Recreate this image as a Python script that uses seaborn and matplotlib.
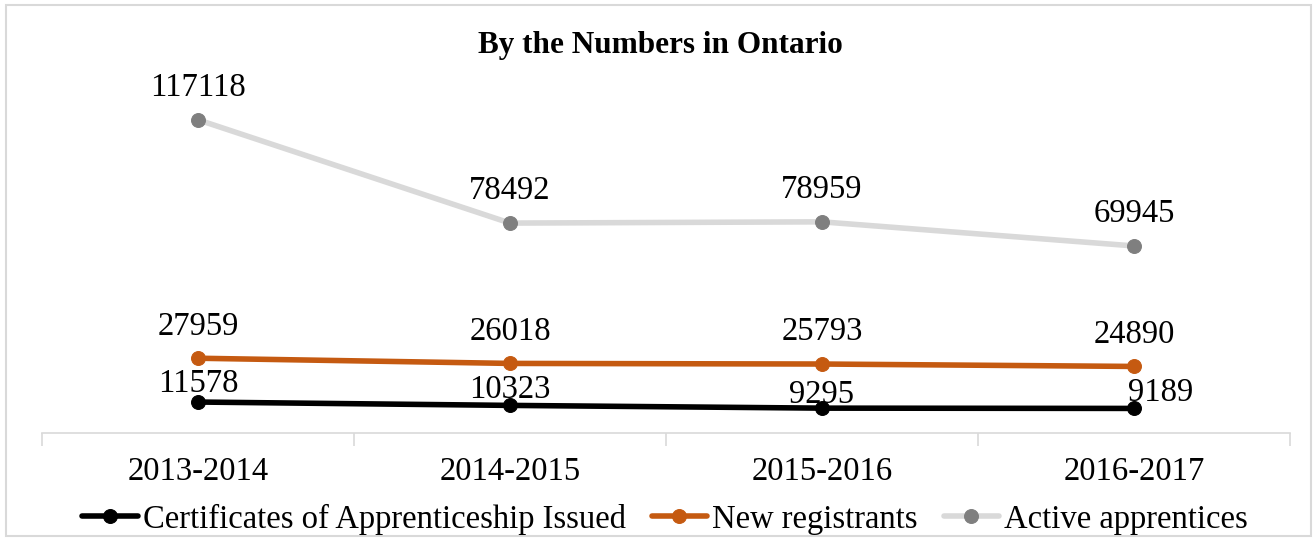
import matplotlib
matplotlib.use("Agg")
import matplotlib.pyplot as plt
import seaborn as sns
import pandas as pd
from matplotlib.patches import Rectangle

years = ["2013-2014", "2014-2015", "2015-2016", "2016-2017"]
certificates = [11578, 10323, 9295, 9189]
new_registrants = [27959, 26018, 25793, 24890]
active_apprentices = [117118, 78492, 78959, 69945]

series_names = ["Certificates of Apprenticeship Issued", "New registrants", "Active apprentices"]
series_values = [certificates, new_registrants, active_apprentices]

sns.set_theme(style="white")
plt.rcParams['font.family'] = ['Liberation Serif', 'DejaVu Serif']
plt.rcParams['text.color'] = 'black'
plt.rcParams['xtick.color'] = 'black'

W, H = 1313, 538
fig = plt.figure(figsize=(W / 100, H / 100), dpi=100)
ax = fig.add_axes([42 / W, 1 - 433 / H, (1290 - 42) / W, (433 - 58.6) / H])

line_colors = ["#000000", "#C55A11", "#D9D9D9"]
marker_colors = ["#000000", "#C55A11", "#7F7F7F"]

frames = []
for name, vals in zip(series_names, series_values):
    frames.append(pd.DataFrame({"year": years, "x": range(len(years)), "value": vals, "series": name}))
df = pd.concat(frames, ignore_index=True)

order = [2, 1, 0]
for i in order:
    sub = df[df["series"] == series_names[i]]
    sns.lineplot(data=sub, x="x", y="value", ax=ax, color=line_colors[i], linewidth=4,
                 marker="o", markersize=10, markerfacecolor=marker_colors[i],
                 markeredgecolor=marker_colors[i], label=series_names[i], legend=False)

FS = 23.5
offsets = {
    2: [(0, 12), (0, 12), (0, 12), (0, 12)],
    1: [(0, 12), (0, 12), (0, 12), (0, 12)],
    0: [(0, 2), (0, 0), (0, -1), (19, 0)],
}
for i in range(3):
    for j, v in enumerate(series_values[i]):
        dx, dy = offsets[i][j]
        ax.annotate(str(v), (j, v), xytext=(dx, dy), textcoords="offset points",
                    ha="center", va="bottom", fontsize=FS, color="black")

ax.set_xlim(-0.5, 3.5)
ax.set_ylim(0, 140000)
ax.set_xticks([0, 1, 2, 3])
ax.set_xticklabels(years, fontsize=FS, color="black")
ax.set_xticks([-0.5, 0.5, 1.5, 2.5, 3.5], minor=True)
ax.tick_params(axis="x", which="major", length=0, pad=17)
ax.tick_params(axis="x", which="minor", length=9, width=1.2, color="#D9D9D9", direction="out", bottom=True)
ax.set_yticks([])
ax.set_xlabel("")
ax.set_ylabel("")
for s in ["top", "right", "left"]:
    ax.spines[s].set_visible(False)
ax.spines["bottom"].set_color("#D9D9D9")
ax.spines["bottom"].set_linewidth(1.2)

fig.text(660 / W, 1 - 45 / H, "By the Numbers in Ontario", fontsize=22.5, fontweight="bold",
         ha="center", va="center", color="black")

handles, labels = ax.get_legend_handles_labels()
hmap = dict(zip(labels, handles))
leg = fig.legend([hmap[n] for n in series_names], series_names, loc="center",
                 bbox_to_anchor=(665 / W, 1 - 519 / H), ncol=3, frameon=False, fontsize=FS,
                 handlelength=1.7, handletextpad=0.15, columnspacing=0.8)
for t in leg.get_texts():
    t.set_color("black")

fig.patches.append(Rectangle((6 / W, 1 - 536 / H), (1311 - 6) / W, (536 - 5) / H,
                             transform=fig.transFigure, fill=False, edgecolor="#D9D9D9", linewidth=1.5))

fig.savefig("out.png", dpi=100)
